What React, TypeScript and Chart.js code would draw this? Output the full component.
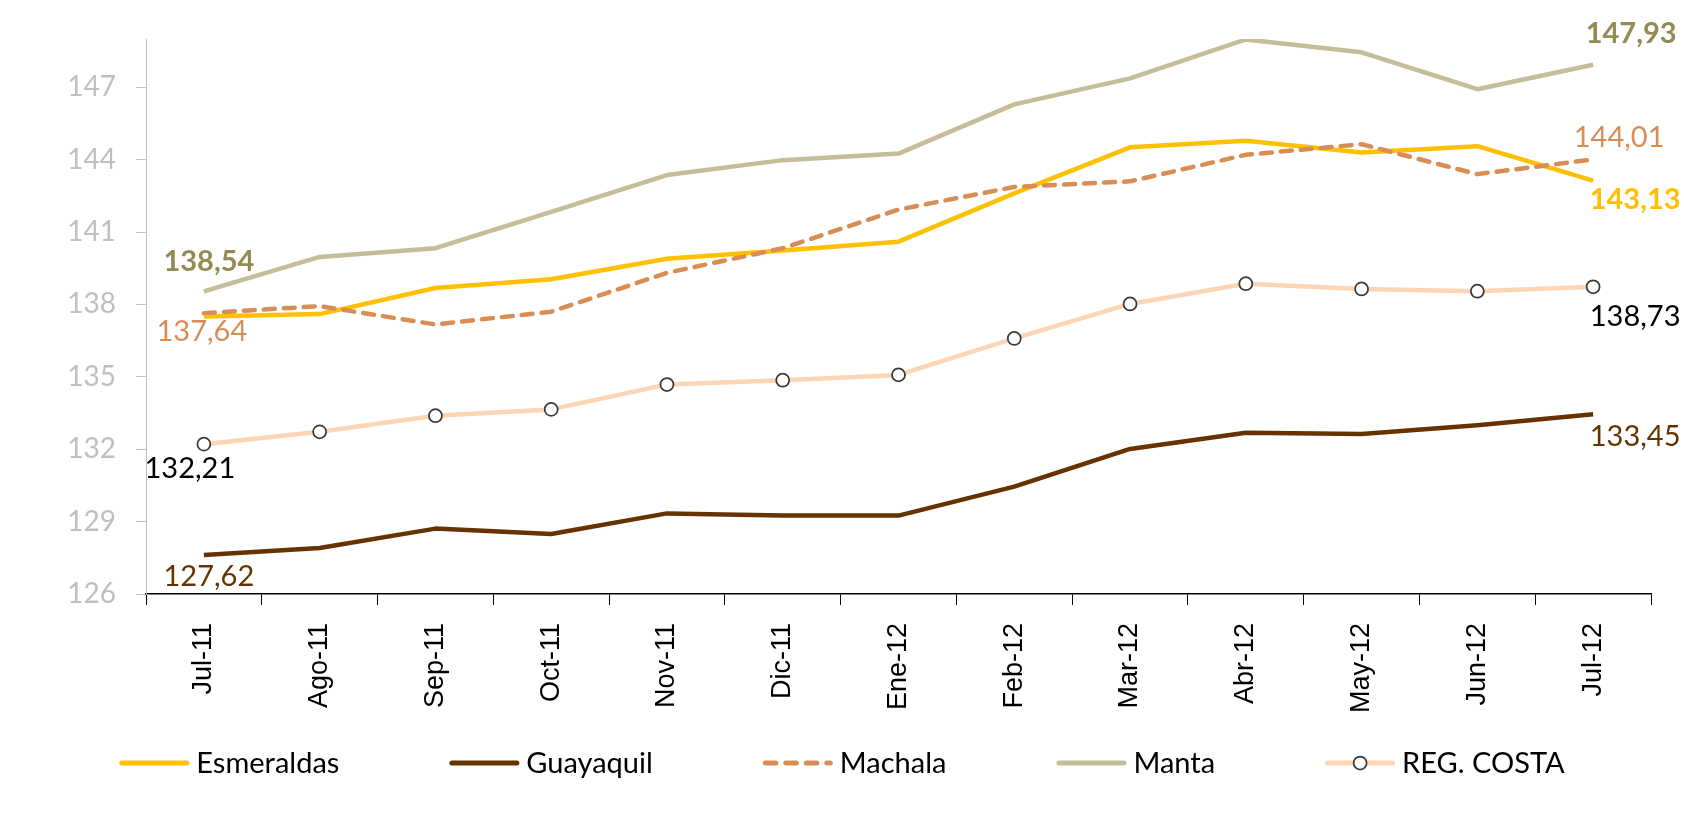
import { useEffect, useRef } from 'react';
import { Chart, registerables } from 'chart.js';

Chart.register(...registerables);

const categories = ['Jul-11', 'Ago-11', 'Sep-11', 'Oct-11', 'Nov-11', 'Dic-11', 'Ene-12', 'Feb-12', 'Mar-12', 'Abr-12', 'May-12', 'Jun-12', 'Jul-12'];
const esmeraldas = [137.5, 137.6, 138.68, 139.04, 139.89, 140.24, 140.6, 142.6, 144.51, 144.78, 144.3, 144.56, 143.13];
const guayaquil = [127.62, 127.91, 128.71, 128.49, 129.34, 129.25, 129.25, 130.45, 132.01, 132.68, 132.63, 132.99, 133.45];
const machala = [137.64, 137.93, 137.17, 137.7, 139.31, 140.33, 141.93, 142.87, 143.1, 144.2, 144.64, 143.4, 144.01];
const manta = [138.54, 139.97, 140.33, 141.84, 143.36, 143.98, 144.25, 146.29, 147.37, 148.98, 148.45, 146.92, 147.93];
const regCosta = [132.21, 132.72, 133.39, 133.65, 134.68, 134.86, 135.08, 136.59, 138.02, 138.86, 138.64, 138.55, 138.73];
const seriesNames = ['Esmeraldas', 'Guayaquil', 'Machala', 'Manta', 'REG. COSTA'];
const yTicks = [126, 129, 132, 135, 138, 141, 144, 147];
const yMin = 126;
const yMax = 149;

const LABEL_FONT = 'Lato, "Noto Sans", sans-serif';

type LabelSpec = { idx: number; dx: number; dy: number; bold: boolean; color: string };
const labelSpecs: LabelSpec[][] = [
  [{ idx: 12, dx: 42, dy: 19, bold: true, color: '#FFC000' }],
  [
    { idx: 0, dx: 5, dy: 22, bold: false, color: '#663300' },
    { idx: 12, dx: 42, dy: 22, bold: false, color: '#663300' },
  ],
  [
    { idx: 0, dx: -2, dy: 19, bold: false, color: '#D88D55' },
    { idx: 12, dx: 26, dy: -22, bold: false, color: '#D88D55' },
  ],
  [
    { idx: 0, dx: 5, dy: -30, bold: true, color: '#948A54' },
    { idx: 12, dx: 38, dy: -31, bold: true, color: '#948A54' },
  ],
  [
    { idx: 0, dx: -14, dy: 24, bold: false, color: '#000000' },
    { idx: 12, dx: 42, dy: 30, bold: false, color: '#000000' },
  ],
];

const fmt = (v: number) => v.toFixed(2).replace('.', ',');

const dataLabelPlugin = {
  id: 'endLabels',
  afterDatasetsDraw(chart: any) {
    const ctx = chart.ctx;
    ctx.save();
    ctx.textAlign = 'center';
    ctx.textBaseline = 'middle';
    chart.data.datasets.forEach((ds: any, i: number) => {
      const meta = chart.getDatasetMeta(i);
      (labelSpecs[i] || []).forEach((s) => {
        const pt = meta.data[s.idx];
        if (!pt) return;
        ctx.font = `${s.bold ? 'bold ' : ''}29px ${LABEL_FONT}`;
        ctx.fillStyle = s.color;
        ctx.fillText(fmt(ds.data[s.idx]), pt.x + s.dx, pt.y + s.dy);
      });
    });
    ctx.restore();
  },
};

const legendPlugin = {
  id: 'customLegend',
  afterDraw(chart: any) {
    const ctx = chart.ctx;
    ctx.save();
    ctx.font = `29px ${LABEL_FONT}`;
    const lineLen = 70;
    const textGap = 7;
    const gap = 110;
    const items = chart.data.datasets.map((ds: any) => ({ ds, w: lineLen + textGap + ctx.measureText(ds.label).width }));
    const total = items.reduce((a: number, it: any) => a + it.w, 0) + gap * (items.length - 1);
    let x = chart.width / 2 - total / 2;
    const y = 763;
    items.forEach((it: any) => {
      const ds = it.ds;
      ctx.save();
      ctx.strokeStyle = ds.borderColor;
      ctx.lineWidth = 5;
      ctx.lineCap = 'round';
      ctx.setLineDash(ds.borderDash ? [10.5, 10] : []);
      ctx.beginPath();
      ctx.moveTo(x + 2.5, y);
      ctx.lineTo(x + lineLen - 2.5, y);
      ctx.stroke();
      ctx.restore();
      if (ds.pointRadius > 0) {
        ctx.save();
        ctx.beginPath();
        ctx.arc(x + lineLen / 2, y, ds.pointRadius, 0, Math.PI * 2);
        ctx.fillStyle = ds.pointBackgroundColor;
        ctx.fill();
        ctx.lineWidth = ds.pointBorderWidth;
        ctx.strokeStyle = ds.pointBorderColor;
        ctx.stroke();
        ctx.restore();
      }
      ctx.fillStyle = '#000000';
      ctx.textAlign = 'left';
      ctx.textBaseline = 'middle';
      ctx.fillText(ds.label, x + lineLen + textGap, y + 1);
      x += it.w + gap;
    });
    ctx.restore();
  },
};

export default function App() {
  const canvasRef = useRef<HTMLCanvasElement | null>(null);

  useEffect(() => {
    if (!canvasRef.current) return;
    const base = {
      fill: false,
      tension: 0,
      borderWidth: 4.5,
      pointRadius: 0,
      pointHoverRadius: 0,
      borderJoinStyle: 'round' as const,
    };
    const chart = new Chart(canvasRef.current, {
      type: 'line',
      data: {
        labels: categories,
        datasets: [
          { ...base, label: seriesNames[0], data: esmeraldas, borderColor: '#FFC000', order: 4 },
          { ...base, label: seriesNames[1], data: guayaquil, borderColor: '#663300', order: 3 },
          { ...base, label: seriesNames[2], data: machala, borderColor: '#D88D55', borderDash: [11, 9], borderCapStyle: 'round', order: 2 },
          { ...base, label: seriesNames[3], data: manta, borderColor: '#C4BD97', order: 1 },
          {
            ...base,
            label: seriesNames[4],
            data: regCosta,
            borderColor: '#FCD5B5',
            pointRadius: 6.5,
            pointBackgroundColor: '#FFFFFF',
            pointBorderColor: '#3A3A3A',
            pointBorderWidth: 1.75,
            order: 0,
          },
        ] as any,
      },
      options: {
        animation: false,
        responsive: true,
        maintainAspectRatio: false,
        layout: { padding: { top: 39, right: 33, bottom: 100, left: 0 } },
        plugins: {
          legend: { display: false },
          tooltip: { enabled: false },
          title: { display: false },
        },
        scales: {
          x: {
            type: 'category',
            offset: true,
            grid: { display: true, drawOnChartArea: false, drawTicks: true, tickLength: 11, color: '#000000', offset: true },
            border: { display: true, color: '#000000', width: 1.5 },
            ticks: {
              minRotation: 90,
              maxRotation: 90,
              autoSkip: false,
              padding: 18,
              color: '#000000',
              font: { family: '"Liberation Sans", Arial, sans-serif', size: 27 },
            },
            afterFit: (s: any) => {
              s.height = 124;
            },
          },
          y: {
            min: yMin,
            max: yMax,
            ticks: { stepSize: 3, color: '#BFBFBF', padding: 20, font: { family: LABEL_FONT, size: 28 } },
            afterBuildTicks: (axis: any) => {
              axis.ticks = yTicks.map((v) => ({ value: v }));
            },
            grid: { display: true, drawOnChartArea: false, tickLength: 10, color: '#BFBFBF' },
            border: { display: true, color: '#BFBFBF', width: 1 },
            afterFit: (s: any) => {
              s.width = 146;
            },
          },
        },
      } as any,
      plugins: [dataLabelPlugin, legendPlugin],
    });
    const fonts = (document as any).fonts;
    if (fonts && fonts.load) {
      Promise.all([fonts.load('29px Lato'), fonts.load('bold 29px Lato'), fonts.load('27px "Liberation Sans"')])
        .then(() => chart.update())
        .catch(() => {});
    }
    return () => chart.destroy();
  }, []);

  return (
    <div style={{ position: 'fixed', left: 0, top: 0, width: '1684px', height: '818px', background: '#FFFFFF' }}>
      <canvas ref={canvasRef} />
    </div>
  );
}
